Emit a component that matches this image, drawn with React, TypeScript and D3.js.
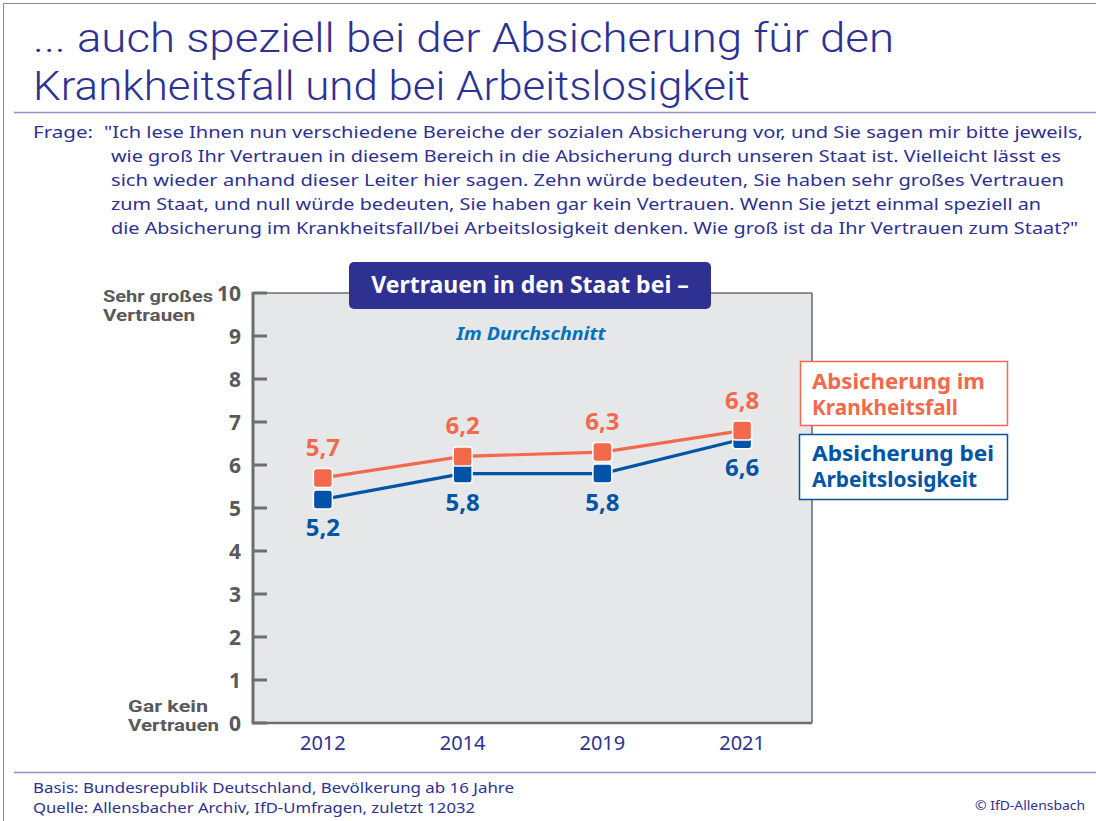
import React from "react";
import * as d3 from "d3";

const years = ["2012", "2014", "2019", "2021"];
const krankheit = [5.7, 6.2, 6.3, 6.8];
const arbeit = [5.2, 5.8, 5.8, 6.6];
const yTicks = [0, 1, 2, 3, 4, 5, 6, 7, 8, 9, 10];
const titleLines = [
  "... auch speziell bei der Absicherung für den",
  "Krankheitsfall und bei Arbeitslosigkeit",
];
const frageLines = [
  "\"Ich lese Ihnen nun verschiedene Bereiche der sozialen Absicherung vor, und Sie sagen mir bitte jeweils,",
  "wie groß Ihr Vertrauen in diesem Bereich in die Absicherung durch unseren Staat ist. Vielleicht lässt es",
  "sich wieder anhand dieser Leiter hier sagen. Zehn würde bedeuten, Sie haben sehr großes Vertrauen",
  "zum Staat, und null würde bedeuten, Sie haben gar kein Vertrauen. Wenn Sie jetzt einmal speziell an",
  "die Absicherung im Krankheitsfall/bei Arbeitslosigkeit denken. Wie groß ist da Ihr Vertrauen zum Staat?\"",
];
const frageEnds = [1083, 1061, 1064, 1041, 1078];
const legendK = ["Absicherung im", "Krankheitsfall"];
const legendA = ["Absicherung bei", "Arbeitslosigkeit"];

const NAVY = "#2e3192";
const ORANGE = "#f26a4b";
const BLUE = "#0054a6";
const GRAY = "#6d6e71";
const FONT = "'Noto Sans', 'DejaVu Sans', sans-serif";
const FONT2 = "Roboto, 'Noto Sans', sans-serif";

export default function App() {
  const W = 1096, H = 821;
  const plotL = 253, plotR = 812, plotT = 293, plotB = 723;
  const x = d3.scalePoint<string>().domain(years).range([plotL, plotR]).padding(0.5);
  const y = d3.scaleLinear().domain([0, 10]).range([plotB, plotT]);
  const line = d3
    .line<number>()
    .x((_, i) => x(years[i]) as number)
    .y((d) => y(d));
  const fmt = (v: number) => v.toFixed(1).replace(".", ",");

  const series = [
    { vals: arbeit, color: BLUE, labelDy: 37 },
    { vals: krankheit, color: ORANGE, labelDy: -22 },
  ];

  return (
    <svg width={W} height={H} style={{ position: "absolute", left: 0, top: 0, display: "block" }} fontFamily={FONT}>
      <rect x={0} y={0} width={W} height={H} fill="#fff" />
      <rect x={3.5} y={3.5} width={W + 10} height={H + 10} fill="none" stroke="#8a8a8a" strokeWidth={1} />

      {titleLines.map((t, i) => (
        <text key={i} x={33} y={52 + i * 48} fontSize={40} fill={NAVY} fontWeight={300} fontFamily={FONT2}
          textLength={i === 0 ? 861 : 717} lengthAdjust="spacingAndGlyphs">
          {t}
        </text>
      ))}
      <line x1={14} x2={W} y1={112.5} y2={112.5} stroke="#8f90c6" strokeWidth={1.5} />

      <text x={33} y={138} fontSize={17} fill={NAVY} textLength={60} lengthAdjust="spacingAndGlyphs">Frage:</text>
      {frageLines.map((t, i) => {
        const x0 = i === 0 ? 104 : 111;
        return (
          <text key={i} x={x0} y={138 + i * 24} fontSize={17} fill={NAVY}
            textLength={frageEnds[i] - x0} lengthAdjust="spacingAndGlyphs">
            {t}
          </text>
        );
      })}

      {/* plot background */}
      <rect x={plotL} y={plotT} width={plotR - plotL} height={plotB - plotT} fill="#e6e7e8" />
      <line x1={plotL} x2={plotR} y1={plotT} y2={plotT} stroke={GRAY} strokeWidth={1.5} />
      <line x1={plotR} x2={plotR} y1={plotT} y2={plotB} stroke="#444" strokeWidth={1.2} />
      <line x1={plotL} x2={plotR} y1={plotB} y2={plotB} stroke={GRAY} strokeWidth={2.5} />
      <line x1={plotL} x2={plotL} y1={plotT - 1} y2={plotB + 1.2} stroke={GRAY} strokeWidth={3} />
      {yTicks.map((t) => (
        <g key={t}>
          <line x1={plotL} x2={plotL + 14} y1={y(t)} y2={y(t)} stroke={GRAY} strokeWidth={3} />
          <text x={241} y={y(t) + 7.5} fontSize={21} fontWeight={700} fill="#58595b" textAnchor="end">{t}</text>
        </g>
      ))}
      <g fontFamily={FONT2} fontSize={16} fontWeight={700} fill="#58595b">
        <text x={103} y={302} textLength={110} lengthAdjust="spacingAndGlyphs">Sehr großes</text>
        <text x={103} y={321} textLength={92} lengthAdjust="spacingAndGlyphs">Vertrauen</text>
        <text x={128} y={712} textLength={80} lengthAdjust="spacingAndGlyphs">Gar kein</text>
        <text x={128} y={731} textLength={91} lengthAdjust="spacingAndGlyphs">Vertrauen</text>
      </g>

      {years.map((yr) => (
        <text key={yr} x={x(yr)} y={750} fontSize={20} fill={NAVY} textAnchor="middle">{yr}</text>
      ))}

      {/* header box */}
      <rect x={349} y={262} width={362} height={47} rx={5} fill={NAVY} />
      <text x={530} y={293} fontSize={23} fontWeight={700} fill="#fff" textAnchor="middle">Vertrauen in den Staat bei –</text>
      <text x={531} y={340} fontSize={18} fontWeight={700} fontStyle="italic" fill="#0072bc" textAnchor="middle"
        textLength={149} lengthAdjust="spacingAndGlyphs">Im Durchschnitt</text>

      {series.map((s, si) => (
        <g key={si}>
          <path d={line(s.vals) || ""} fill="none" stroke={s.color} strokeWidth={3.2} />
          {s.vals.map((v, i) => (
            <rect key={i} x={(x(years[i]) as number) - 9.5} y={y(v) - 9.5} width={19} height={19} rx={3}
              fill={s.color} stroke="#fff" strokeWidth={1.5} />
          ))}
        </g>
      ))}
      {series.map((s, si) =>
        s.vals.map((v, i) => (
          <text key={`${si}-${i}`} x={x(years[i])} y={y(v) + s.labelDy} fontSize={24} fontWeight={700}
            fill={s.color} textAnchor="middle">{fmt(v)}</text>
        ))
      )}

      {/* legend */}
      <rect x={800.5} y={361.5} width={207} height={64} fill="#fff" stroke={ORANGE} strokeWidth={1.5} />
      {legendK.map((t, i) => (
        <text key={i} x={812} y={389 + i * 26} fontSize={21} fontWeight={700} fill={ORANGE}
          textLength={i === 0 ? 173 : 146} lengthAdjust="spacingAndGlyphs">{t}</text>
      ))}
      <rect x={799.5} y={434.5} width={208} height={65} fill="#fff" stroke={BLUE} strokeWidth={1.5} />
      {legendA.map((t, i) => (
        <text key={i} x={812} y={461 + i * 26} fontSize={21} fontWeight={700} fill={BLUE}
          textLength={i === 0 ? 182 : 165} lengthAdjust="spacingAndGlyphs">{t}</text>
      ))}

      {/* footer */}
      <line x1={14} x2={W} y1={772.5} y2={772.5} stroke="#8f90c6" strokeWidth={1.5} />
      <text x={33} y={793} fontSize={15} fill={NAVY} textLength={481} lengthAdjust="spacingAndGlyphs">Basis: Bundesrepublik Deutschland, Bevölkerung ab 16 Jahre</text>
      <text x={33} y={813} fontSize={15} fill={NAVY} textLength={442} lengthAdjust="spacingAndGlyphs">Quelle: Allensbacher Archiv, IfD-Umfragen, zuletzt 12032</text>
      <text x={1085} y={810} fontSize={13} fill={NAVY} textAnchor="end" textLength={110} lengthAdjust="spacingAndGlyphs">© IfD-Allensbach</text>
    </svg>
  );
}
